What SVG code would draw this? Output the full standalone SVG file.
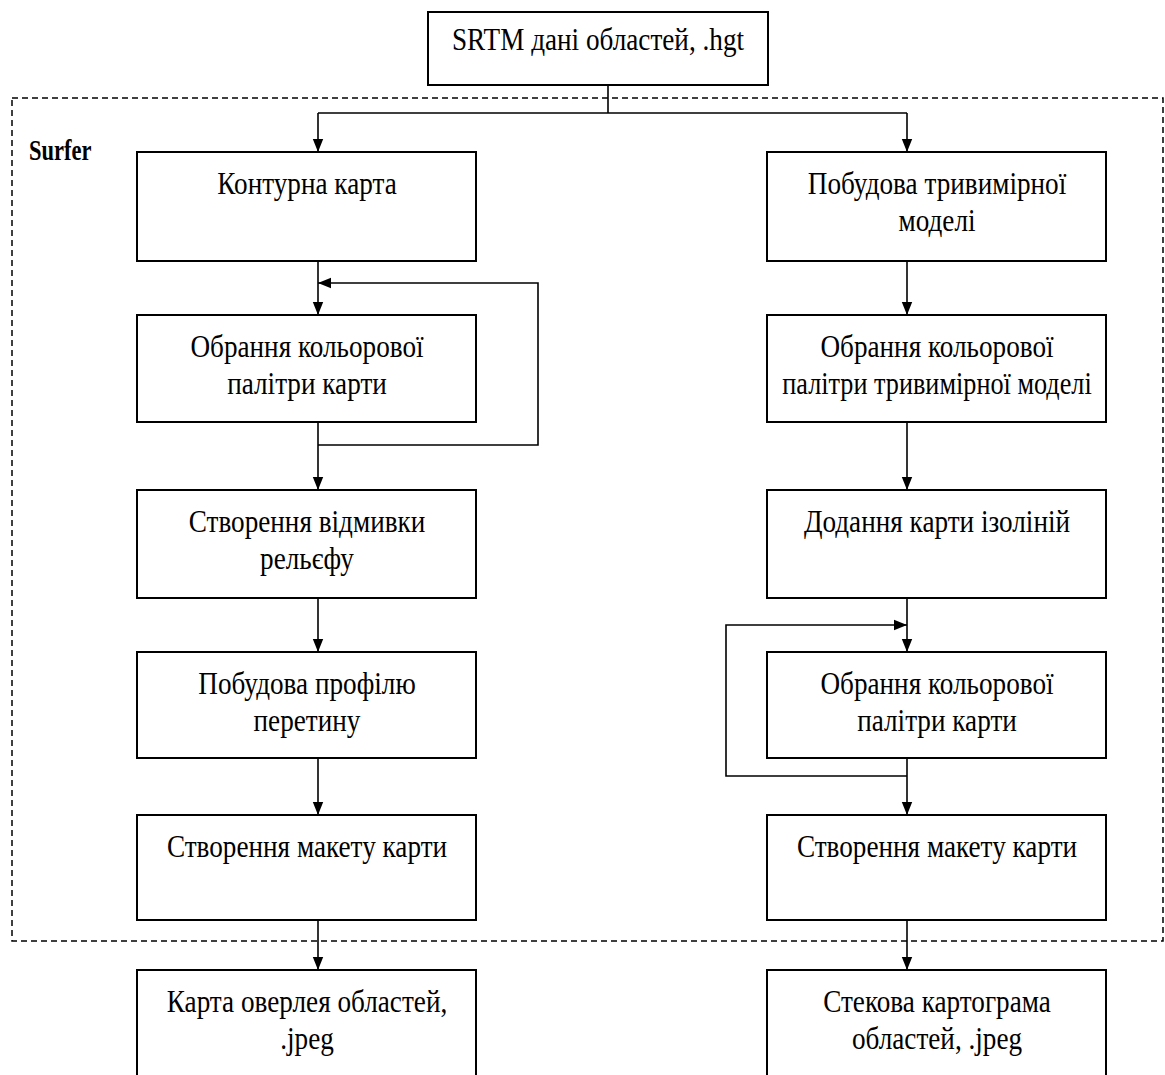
<svg xmlns="http://www.w3.org/2000/svg" width="1165" height="1075" viewBox="0 0 1165 1075">
<style>
.box{fill:#fff;stroke:#000;stroke-width:2}
.t{font-family:"Liberation Serif","Times New Roman",serif;font-size:32px;text-anchor:middle;fill:#000}
.c{fill:none;stroke:#000;stroke-width:1.6}
</style>
<defs>
<marker id="ah" viewBox="0 0 10 10" refX="10" refY="5" markerWidth="13" markerHeight="13" markerUnits="userSpaceOnUse" orient="auto">
<path d="M0,1 L10,5 L0,9 Z" fill="#000"/>
</marker>
</defs>
<rect x="12" y="98" width="1151" height="843" fill="none" stroke="#000" stroke-width="1.5" stroke-dasharray="6 4"/>
<text transform="translate(29 160) scale(0.75 1)" style="font-family:'Liberation Serif',serif;font-size:30px;font-weight:bold">Surfer</text>
<g id="connectors">
<path class="c" d="M608,85 V113 M318,113 H907"/>
<path class="c" d="M318,113 V152" marker-end="url(#ah)"/>
<path class="c" d="M907,113 V152" marker-end="url(#ah)"/>
<path class="c" d="M318,261 V315" marker-end="url(#ah)"/>
<path class="c" d="M318,423 V490" marker-end="url(#ah)"/>
<path class="c" d="M318,445 H538 V283 H318" marker-end="url(#ah)"/>
<path class="c" d="M318,598 V652" marker-end="url(#ah)"/>
<path class="c" d="M318,758 V815" marker-end="url(#ah)"/>
<path class="c" d="M318,920 V970" marker-end="url(#ah)"/>
<path class="c" d="M907,261 V315" marker-end="url(#ah)"/>
<path class="c" d="M907,423 V490" marker-end="url(#ah)"/>
<path class="c" d="M907,598 V652" marker-end="url(#ah)"/>
<path class="c" d="M907,776 H726 V625 H907" marker-end="url(#ah)"/>
<path class="c" d="M907,758 V815" marker-end="url(#ah)"/>
<path class="c" d="M907,920 V970" marker-end="url(#ah)"/>
</g>
<g id="n0"><rect class="box" x="428" y="12" width="340" height="73"/><text class="t" transform="translate(598 50) scale(0.85 1)">SRTM дані областей, .hgt</text></g>
<g id="l1"><rect class="box" x="137" y="152" width="339" height="109"/><text class="t" transform="translate(307 194) scale(0.85 1)">Контурна карта</text></g>
<g id="l2"><rect class="box" x="137" y="315" width="339" height="107"/><text class="t" transform="translate(307 357) scale(0.85 1)">Обрання кольорової</text><text class="t" transform="translate(307 394) scale(0.85 1)">палітри карти</text></g>
<g id="l3"><rect class="box" x="137" y="490" width="339" height="108"/><text class="t" transform="translate(307 532) scale(0.85 1)">Створення відмивки</text><text class="t" transform="translate(307 569) scale(0.85 1)">рельєфу</text></g>
<g id="l4"><rect class="box" x="137" y="652" width="339" height="106"/><text class="t" transform="translate(307 694) scale(0.85 1)">Побудова профілю</text><text class="t" transform="translate(307 731) scale(0.85 1)">перетину</text></g>
<g id="l5"><rect class="box" x="137" y="815" width="339" height="105"/><text class="t" transform="translate(307 857) scale(0.85 1)">Створення макету карти</text></g>
<g id="l6"><rect class="box" x="137" y="970" width="339" height="120"/><text class="t" transform="translate(307 1012) scale(0.85 1)">Карта оверлея областей,</text><text class="t" transform="translate(307 1049) scale(0.85 1)">.jpeg</text></g>
<g id="r1"><rect class="box" x="767" y="152" width="339" height="109"/><text class="t" transform="translate(937 194) scale(0.85 1)">Побудова тривимірної</text><text class="t" transform="translate(937 231) scale(0.85 1)">моделі</text></g>
<g id="r2"><rect class="box" x="767" y="315" width="339" height="107"/><text class="t" transform="translate(937 357) scale(0.85 1)">Обрання кольорової</text><text class="t" transform="translate(937 394) scale(0.82 1)">палітри тривимірної моделі</text></g>
<g id="r3"><rect class="box" x="767" y="490" width="339" height="108"/><text class="t" transform="translate(937 532) scale(0.85 1)">Додання карти ізоліній</text></g>
<g id="r4"><rect class="box" x="767" y="652" width="339" height="106"/><text class="t" transform="translate(937 694) scale(0.85 1)">Обрання кольорової</text><text class="t" transform="translate(937 731) scale(0.85 1)">палітри карти</text></g>
<g id="r5"><rect class="box" x="767" y="815" width="339" height="105"/><text class="t" transform="translate(937 857) scale(0.85 1)">Створення макету карти</text></g>
<g id="r6"><rect class="box" x="767" y="970" width="339" height="120"/><text class="t" transform="translate(937 1012) scale(0.85 1)">Стекова картограма</text><text class="t" transform="translate(937 1049) scale(0.85 1)">областей, .jpeg</text></g>
</svg>
